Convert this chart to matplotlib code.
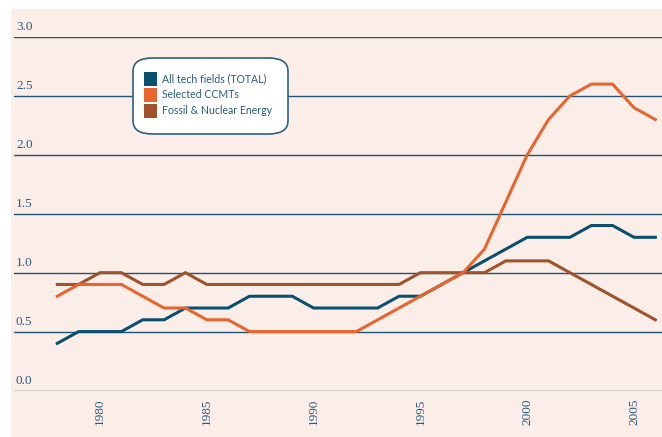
import matplotlib
matplotlib.use("Agg")
import matplotlib.pyplot as plt
from matplotlib.patches import Rectangle, FancyBboxPatch
from matplotlib.transforms import blended_transform_factory

years = list(range(1978, 2007))
total = [0.4, 0.5, 0.5, 0.5, 0.6, 0.6, 0.7, 0.7, 0.7, 0.8, 0.8, 0.8, 0.7, 0.7, 0.7,
         0.7, 0.8, 0.8, 0.9, 1.0, 1.1, 1.2, 1.3, 1.3, 1.3, 1.4, 1.4, 1.3, 1.3]
ccmt = [0.8, 0.9, 0.9, 0.9, 0.8, 0.7, 0.7, 0.6, 0.6, 0.5, 0.5, 0.5, 0.5, 0.5, 0.5,
        0.6, 0.7, 0.8, 0.9, 1.0, 1.2, 1.6, 2.0, 2.3, 2.5, 2.6, 2.6, 2.4, 2.3]
fossil = [0.9, 0.9, 1.0, 1.0, 0.9, 0.9, 1.0, 0.9, 0.9, 0.9, 0.9, 0.9, 0.9, 0.9, 0.9,
          0.9, 0.9, 1.0, 1.0, 1.0, 1.0, 1.1, 1.1, 1.1, 1.0, 0.9, 0.8, 0.7, 0.6]
series_names = ["All tech fields (TOTAL)", "Selected CCMTs", "Fossil & Nuclear Energy"]
y_ticks = [0.0, 0.5, 1.0, 1.5, 2.0, 2.5, 3.0]
x_ticks = [1980, 1985, 1990, 1995, 2000, 2005]

C_BLUE = "#0b4f6e"
C_ORANGE = "#e8652e"
C_BROWN = "#a0522b"
C_TEXT = "#2c5c7b"
C_GRID = "#1e5372"
C_BG = "#fbeee9"

W, H = 662, 437
fig = plt.figure(figsize=(W / 100, H / 100), dpi=100, facecolor="white")

def px(x, y):
    return x / W, 1 - y / H

# pink background panel
bx, by = px(11, 437)
fig.patches.append(Rectangle((bx, by), 1 - bx, (437 - 9) / H, transform=fig.transFigure,
                             facecolor=C_BG, edgecolor="none", zorder=-5))

left_px, right_px = 14, 662
top_px, bot_px = 37, 390.5
ax = fig.add_axes([left_px / W, (H - bot_px) / H, (right_px - left_px) / W, (bot_px - top_px) / H])
ax.set_zorder(1)
ax.set_facecolor("none")
for s in ax.spines.values():
    s.set_visible(False)

ppy = (634 - 100) / 25.0
ax.set_xlim(1980 - (100 - left_px) / ppy, 1980 + (right_px - 100) / ppy)
ax.set_ylim(0, 3.0)

for v in y_ticks:
    ax.axhline(v, color=C_GRID, lw=1.0, zorder=1)

ax.plot(years, total, color=C_BLUE, lw=2.2, zorder=3, solid_joinstyle="miter")
ax.plot(years, fossil, color=C_BROWN, lw=2.2, zorder=3, solid_joinstyle="miter")
ax.plot(years, ccmt, color=C_ORANGE, lw=2.2, zorder=4, solid_joinstyle="miter")

ax.set_yticks([])
ax.set_xticks(x_ticks)
ax.set_xticklabels([str(t) for t in x_ticks], rotation=90, family="Liberation Serif",
                   fontsize=9.5, color=C_TEXT)
ax.tick_params(axis="x", length=0, pad=6)

tr = blended_transform_factory(ax.transAxes, ax.transData)
for v in y_ticks:
    ax.text(0.003, v + 0.03, f"{v:.1f}", transform=tr, ha="left", va="bottom",
            family="Liberation Serif", fontsize=9.5, color=C_TEXT)

# legend box
lx0, ly0 = px(133, 134)
lx1, ly1 = px(288, 58)
box = FancyBboxPatch((lx0, ly0), lx1 - lx0, ly1 - ly0, transform=fig.transFigure,
                     boxstyle="round,pad=0,rounding_size=0.03", facecolor="white",
                     edgecolor="#2e6080", lw=1.2, zorder=5, mutation_aspect=H / W * 1.5)
fig.patches.append(box)
colors = [C_BLUE, C_ORANGE, C_BROWN]
for i, (name, c) in enumerate(zip(series_names, colors)):
    cy = 79 + 16 * i
    sx, sy = px(144, cy + 7)
    fig.patches.append(Rectangle((sx, sy), 13 / W, 14 / H, transform=fig.transFigure,
                                 facecolor=c, edgecolor="none", zorder=6))
    tx, ty = px(162, cy)
    fig.text(tx, ty, name, ha="left", va="center", fontsize=7.6, family="Lato",
             color=C_TEXT, zorder=7)

fig.savefig("out.png", dpi=100, facecolor="white")
